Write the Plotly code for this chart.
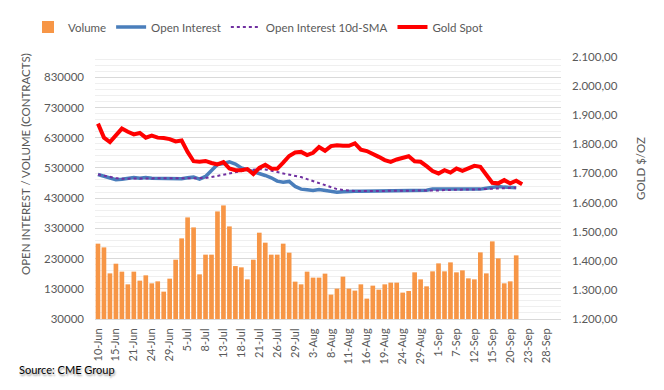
import plotly.graph_objects as go

dates = ["10-Jun","13-Jun","14-Jun","15-Jun","16-Jun","17-Jun","21-Jun","22-Jun","23-Jun","24-Jun",
         "27-Jun","28-Jun","29-Jun","30-Jun","1-Jul","5-Jul","6-Jul","7-Jul","8-Jul","11-Jul",
         "12-Jul","13-Jul","14-Jul","15-Jul","18-Jul","19-Jul","20-Jul","21-Jul","22-Jul","25-Jul",
         "26-Jul","27-Jul","28-Jul","29-Jul","1-Aug","2-Aug","3-Aug","4-Aug","5-Aug","8-Aug",
         "9-Aug","10-Aug","11-Aug","12-Aug","15-Aug","16-Aug","17-Aug","18-Aug","19-Aug","22-Aug",
         "23-Aug","24-Aug","25-Aug","26-Aug","29-Aug","30-Aug","31-Aug","1-Sep","2-Sep","6-Sep",
         "7-Sep","8-Sep","9-Sep","12-Sep","13-Sep","14-Sep","15-Sep","16-Sep","19-Sep","20-Sep",
         "21-Sep","22-Sep","23-Sep","26-Sep","27-Sep","28-Sep","29-Sep","30-Sep"]

tick_labels = ["10-Jun","15-Jun","21-Jun","24-Jun","29-Jun","5-Jul","8-Jul","13-Jul","18-Jul",
               "21-Jul","26-Jul","29-Jul","3-Aug","8-Aug","11-Aug","16-Aug","19-Aug","24-Aug",
               "29-Aug","1-Sep","7-Sep","12-Sep","15-Sep","20-Sep","23-Sep","28-Sep"]

volume = [279300, 267000, 181000, 213000, 186700, 144700, 186700, 156900, 174500, 148000,
          154600, 120500, 163500, 226300, 296800, 366200, 333100, 177800, 242900, 242900,
          386000, 405900, 336400, 205200, 200900, 161200, 226300, 315600, 282600, 242900,
          242900, 279300, 249500, 153600, 144700, 186700, 166900, 166900, 180100, 110700,
          130500, 170200, 130500, 123900, 144700, 97400, 140400, 127200, 144700, 150300,
          150300, 117300, 122600, 184400, 161200, 138100, 187700, 214100, 187700, 217400,
          184400, 191000, 164500, 161200, 250500, 181000, 286900, 230700, 148000, 154600,
          240600]

open_interest = [508300, 501700, 497400, 490800, 492800, 495100, 498400, 496100, 498400, 496100,
                 496100, 496100, 496100, 494100, 494100, 497400, 499400, 492800, 501700, 521600,
                 541400, 544600, 550000, 543000, 530000, 524000, 518300, 510700, 505000, 497400,
                 486200, 482900, 485200, 468700, 459800, 457800, 455500, 458800, 455500, 452000,
                 449800, 450900, 453100, 453100, 453100, 453100, 453100, 453100, 453100, 453100,
                 453100, 453100, 453100, 453100, 453100, 456000, 459800, 459800, 459800, 459800,
                 459800, 459800, 459800, 459800, 459800, 463000, 466400, 468700, 466400, 464400,
                 464400]

oi_sma = [508400, 504000, 500700, 496300, 494000, 495200, 495200, 495200, 495200, 495200,
          495200, 495200, 495200, 495200, 495200, 495200, 495200, 495200, 496300, 499600,
          504000, 508400, 512800, 516100, 519400, 522700, 524900, 526000, 524900, 521600,
          516100, 511700, 508400, 504000, 499600, 492900, 486300, 479700, 470900, 464300,
          459900, 456600, 454400, 453300, 453300, 453300, 453300, 453300, 453300, 453300,
          453300, 453300, 453300, 453300, 453300, 453300, 454400, 455500, 456600, 457700,
          458800, 458800, 458800, 458800, 458800, 459900, 461000, 462100, 463200, 464300,
          464300]

gold_spot = [1871, 1823, 1808, 1831, 1854, 1843, 1834, 1839, 1823, 1830,
             1823, 1822, 1818, 1810, 1813, 1774, 1742, 1740, 1743, 1736,
             1731, 1739, 1717, 1711, 1711, 1715, 1698, 1719, 1730, 1717,
             1716, 1737, 1760, 1772, 1774, 1763, 1771, 1791, 1778, 1794,
             1797, 1795, 1795, 1803, 1782, 1777, 1765, 1757, 1746, 1740,
             1748, 1755, 1759, 1742, 1740, 1725, 1708, 1700, 1711, 1703,
             1717, 1709, 1719, 1726, 1723, 1698, 1668, 1666, 1677, 1666,
             1675, 1663]

left_ticks = [30000, 130000, 230000, 330000, 430000, 530000, 630000, 730000, 830000]
right_ticks = [1200, 1300, 1400, 1500, 1600, 1700, 1800, 1900, 2000, 2100]

FONT = "Lato, 'Open Sans', sans-serif"
GRAY = "#595959"

fig = go.Figure()
fig.add_trace(go.Bar(x=dates[:len(volume)], y=volume, name="Volume",
                     marker=dict(color="#F79646", line=dict(width=0))))
fig.add_trace(go.Scatter(x=dates[:len(open_interest)], y=open_interest, name="Open Interest",
                         mode="lines", line=dict(color="#4A7EBB", width=3.5)))
fig.add_trace(go.Scatter(x=dates[:len(oi_sma)], y=oi_sma, name="Open Interest 10d-SMA",
                         mode="lines", line=dict(color="#7030A0", width=2, dash="dot")))
fig.add_trace(go.Scatter(x=dates[:len(gold_spot)], y=gold_spot, name="Gold Spot", yaxis="y2",
                         mode="lines", line=dict(color="#FF0000", width=4)))

n = len(dates)
L, R, T, B = 95, 103, 57, 71
PW, PH = 664 - L - R, 390 - T - B

fig.update_layout(
    width=664, height=390,
    margin=dict(l=L, r=R, t=T, b=B, autoexpand=False),
    paper_bgcolor="white", plot_bgcolor="white",
    font=dict(family=FONT, size=11, color=GRAY),
    separators=",.",
    bargap=0.22,
    showlegend=True,
    legend=dict(orientation="h", xref="paper", yref="paper",
                x=(28 - L) / PW, y=(390 - B - 27) / PH, xanchor="left", yanchor="middle",
                font=dict(size=11.5, color=GRAY), traceorder="normal",
                itemwidth=30, bgcolor="rgba(0,0,0,0)"),
    xaxis=dict(type="category", categoryorder="array", categoryarray=dates,
               range=[-0.5, n - 0.5], tickmode="array", tickvals=tick_labels,
               ticktext=tick_labels, tickangle=-90, ticks="outside", ticklen=4,
               tickcolor="rgba(0,0,0,0)", showgrid=False, showline=True,
               linecolor="#d9d9d9", linewidth=1, zeroline=False,
               tickfont=dict(size=11, color=GRAY)),
    xaxis2=dict(overlaying="x", anchor="y", side="bottom", range=[-0.5, n - 0.5],
                tickmode="linear", tick0=-0.5, dtick=1, ticks="outside", ticklen=4,
                tickcolor="#d9d9d9", showticklabels=False, showgrid=False,
                zeroline=False, showline=False),
    yaxis=dict(range=[30000, 897000], tickmode="array", tickvals=left_ticks,
               tickformat="d", showgrid=True, gridcolor="#d9d9d9", gridwidth=1,
               zeroline=False, ticks="", ticklabelstandoff=10,
               tickfont=dict(size=11.5, color=GRAY),
               minor=dict(tick0=30000, dtick=20000, showgrid=True,
                          gridcolor="#efefef", gridwidth=1)),
    yaxis2=dict(overlaying="y", side="right", range=[1200, 2100], tickmode="array",
                tickvals=right_ticks, tickformat=",.2f", showgrid=False,
                zeroline=False, ticks="", ticklabelstandoff=10,
                tickfont=dict(size=11.5, color=GRAY)),
    annotations=[
        dict(text="OPEN INTEREST / VOLUME (CONTRACTS)", xref="paper", yref="paper",
             x=(25 - L) / PW, y=(390 - B - 164) / PH, textangle=-90, showarrow=False,
             font=dict(size=11.5, color=GRAY), xanchor="center", yanchor="middle"),
        dict(text="GOLD $/OZ", xref="paper", yref="paper",
             x=(640 - L) / PW, y=(390 - B - 169) / PH, textangle=-90, showarrow=False,
             font=dict(size=11.5, color=GRAY), xanchor="center", yanchor="middle"),
        dict(text="Source: CME Group", xref="paper", yref="paper",
             x=(17 - L) / PW, y=(390 - B - 369) / PH, showarrow=False,
             xanchor="left", yanchor="middle",
             font=dict(size=11, color="#000000", shadow="1px 2px 2px #9a9a9a")),
    ],
)

fig.write_html("out.html", config={"displayModeBar": False},
               post_script="document.body.style.margin='0';document.body.style.overflow='hidden';")
